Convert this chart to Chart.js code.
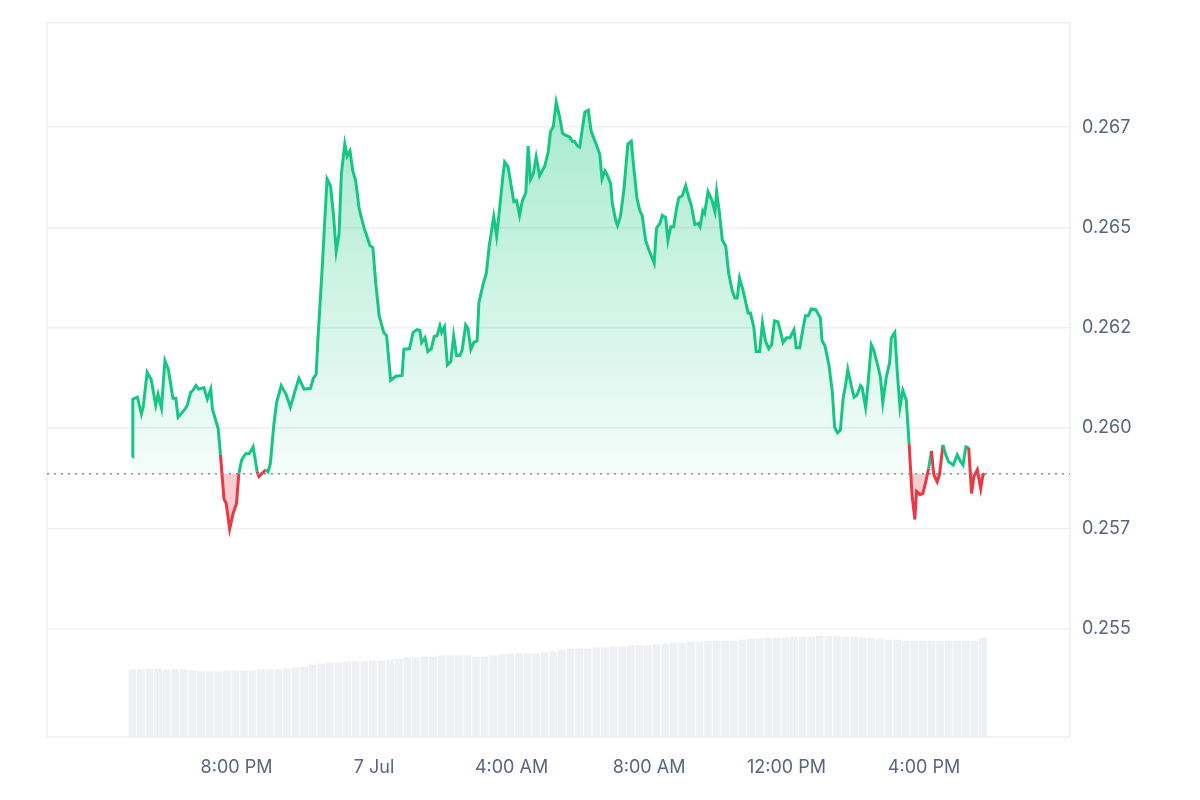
<!DOCTYPE html>
<html><head><meta charset="utf-8">
<script src="https://cdn.jsdelivr.net/npm/chart.js@4"></script>
<style>html,body{margin:0;padding:0;background:#fff}#c{display:block;width:1200px;height:800px}</style>
</head><body><canvas id="c" width="1200" height="800"></canvas>
<script>
// minutes since 16:58 Jul 6
const times=[0,1,9,16,19,26,33,41,45,51,57,63,71,76,80,92,96,102,106,111,116,125,131,137,140,150,154,160,164,170,176,182,186,191,198,204,211,218,221,233,237,241,247,252,260,269,276,285,291,300,311,316,321,324,332,340,346,351,356,361,365,371,375,380,385,390,396,404,415,420,425,431,439,444,451,460,471,474,484,490,497,502,505,511,516,522,527,532,537,540,545,550,556,561,566,572,576,582,586,591,596,602,605,612,618,623,631,636,640,647,650,656,666,671,676,681,687,691,695,700,705,711,720,726,730,735,740,746,751,756,764,768,772,777,781,785,790,796,801,809,816,820,825,829,835,838,844,847,852,858,865,871,876,881,886,890,896,902,911,915,921,925,931,935,940,945,950,954,960,966,972,976,982,988,991,996,999,1005,1012,1017,1020,1025,1030,1036,1041,1047,1052,1056,1060,1066,1071,1075,1079,1085,1089,1095,1100,1105,1111,1116,1121,1127,1132,1136,1142,1148,1155,1159,1165,1171,1175,1180,1185,1193,1201,1204,1209,1216,1222,1226,1231,1236,1241,1245,1249,1255,1260,1265,1271,1274,1280,1284,1290,1294,1302,1306,1310,1316,1322,1325,1331,1335,1340,1345,1351,1356,1361,1366,1369,1375,1380,1385,1390,1395,1399,1405,1409,1415,1420,1425,1433,1440,1446,1450,1455,1460,1465,1469,1475,1481,1485,1488];
const prices=[0.25928,0.26072,0.26077,0.26035,0.26052,0.26139,0.26121,0.26057,0.26084,0.26050,0.26168,0.26146,0.26074,0.26074,0.26027,0.26047,0.26057,0.26089,0.26094,0.26106,0.26097,0.26101,0.26072,0.26097,0.26047,0.25998,0.25933,0.25824,0.25812,0.25748,0.25787,0.25812,0.25886,0.25921,0.25936,0.25936,0.25953,0.25891,0.25879,0.25896,0.25891,0.25911,0.26007,0.26064,0.26106,0.26082,0.26052,0.26097,0.26124,0.26097,0.26099,0.26124,0.26134,0.26220,0.26411,0.26621,0.26604,0.26535,0.26441,0.26485,0.26634,0.26708,0.26678,0.26691,0.26641,0.26616,0.26547,0.26502,0.26455,0.26450,0.26361,0.26280,0.26238,0.26230,0.26119,0.26129,0.26131,0.26196,0.26198,0.26238,0.26245,0.26243,0.26213,0.26225,0.26191,0.26198,0.26228,0.26230,0.26255,0.26238,0.26252,0.26158,0.26166,0.26230,0.26181,0.26181,0.26196,0.26257,0.26248,0.26196,0.26213,0.26218,0.26312,0.26356,0.26386,0.26453,0.26527,0.26478,0.26530,0.26629,0.26663,0.26651,0.26564,0.26567,0.26530,0.26567,0.26587,0.26703,0.26619,0.26634,0.26676,0.26629,0.26653,0.26688,0.26738,0.26752,0.26812,0.26775,0.26735,0.26730,0.26725,0.26715,0.26715,0.26703,0.26700,0.26740,0.26787,0.26792,0.26740,0.26710,0.26683,0.26621,0.26641,0.26631,0.26609,0.26559,0.26517,0.26505,0.26527,0.26592,0.26708,0.26715,0.26641,0.26572,0.26542,0.26530,0.26468,0.26443,0.26411,0.26498,0.26510,0.26530,0.26525,0.26468,0.26502,0.26502,0.26547,0.26574,0.26579,0.26604,0.26572,0.26554,0.26507,0.26510,0.26502,0.26542,0.26535,0.26589,0.26567,0.26540,0.26589,0.26535,0.26468,0.26453,0.26386,0.26344,0.26324,0.26324,0.26374,0.26344,0.26312,0.26287,0.26287,0.26250,0.26191,0.26191,0.26262,0.26218,0.26198,0.26208,0.26267,0.26265,0.26238,0.26213,0.26225,0.26225,0.26245,0.26200,0.26200,0.26250,0.26280,0.26280,0.26297,0.26295,0.26275,0.26218,0.26205,0.26158,0.26089,0.26002,0.25988,0.25995,0.26077,0.26106,0.26146,0.26106,0.26077,0.26082,0.26106,0.26101,0.26052,0.26106,0.26208,0.26196,0.26151,0.26126,0.26064,0.26126,0.26163,0.26225,0.26238,0.26146,0.26052,0.26094,0.26069,0.25960,0.25834,0.25772,0.25842,0.25834,0.25837,0.25866,0.25899,0.25943,0.25884,0.25866,0.25884,0.25958,0.25933,0.25916,0.25908,0.25933,0.25916,0.25908,0.25953,0.25951,0.25837,0.25879,0.25896,0.25849,0.25884,0.25886];
const volumes=[6.8,6.8,6.9,6.9,6.8,6.8,6.8,6.7,6.6,6.6,6.6,6.7,6.7,6.7,6.7,6.8,6.8,6.8,6.9,7.0,7.1,7.3,7.4,7.5,7.5,7.6,7.6,7.6,7.7,7.7,7.8,7.9,8.0,8.0,8.1,8.1,8.2,8.2,8.2,8.2,8.1,8.1,8.2,8.3,8.4,8.4,8.4,8.4,8.5,8.6,8.8,8.9,8.9,8.9,9.0,9.0,9.1,9.1,9.2,9.2,9.2,9.3,9.4,9.5,9.5,9.6,9.6,9.7,9.7,9.7,9.7,9.8,9.9,9.9,10.0,10.0,10.0,10.1,10.1,10.1,10.2,10.2,10.2,10.1,10.1,10.0,10.0,9.9,9.8,9.8,9.7,9.7,9.7,9.7,9.7,9.7,9.7,9.7,9.7,10.0];
const volumeStepMin=15;
const basePrice=0.25886;
const xTickMinutes=[182,422,662,902,1142,1382];
const xTickLabels=['8:00 PM','7 Jul','4:00 AM','8:00 AM','12:00 PM','4:00 PM'];
const yTickValues=[0.255,0.2575,0.26,0.2625,0.265,0.2675];
const yTickLabels=['0.255','0.257','0.260','0.262','0.265','0.267'];

const GREEN='#16c784',RED='#ea3943';
const priceData=times.map((t,i)=>({x:t,y:prices[i]}));
const volData=volumes.map((v,i)=>({x:i*volumeStepMin,y:v}));

const frame={id:'frame',beforeDatasetsDraw(ch){const a=ch.chartArea,c=ch.ctx;c.save();c.strokeStyle='#eeeff2';c.lineWidth=1.5;c.strokeRect(a.left,a.top,a.right-a.left,a.bottom-a.top);c.restore();},
afterDatasetsDraw(ch){const a=ch.chartArea,c=ch.ctx,y=ch.scales.y.getPixelForValue(basePrice);c.save();c.strokeStyle='#858ca2';c.lineWidth=1.5;c.setLineDash([2,5]);c.beginPath();c.moveTo(a.left,y);c.lineTo(a.right,y);c.stroke();c.restore();}};

function greenFill(ctx){const ch=ctx.chart,a=ch.chartArea;if(!a)return 'rgba(22,199,132,0.2)';const yb=ch.scales.y.getPixelForValue(basePrice);const g=ch.ctx.createLinearGradient(0,ch.scales.y.getPixelForValue(0.2681),0,yb);g.addColorStop(0,'rgba(22,199,132,0.38)');g.addColorStop(1,'rgba(22,199,132,0.04)');return g;}

new Chart(document.getElementById('c'),{
 data:{datasets:[
  {type:'line',data:priceData,yAxisID:'y',borderColor:GREEN,borderWidth:3,pointRadius:0,tension:0,order:1,
   segment:{borderColor:c=>(c.p0.parsed.y<basePrice-1e-7||c.p1.parsed.y<basePrice-1e-7)?RED:GREEN},
   fill:{target:{value:basePrice},above:greenFill,below:'rgba(234,57,67,0.25)'}},
  {type:'bar',data:volData,yAxisID:'y2',backgroundColor:'#eff0f3',barPercentage:1,categoryPercentage:0.9,order:2}
 ]},
 options:{responsive:false,animation:false,devicePixelRatio:1,
  layout:{padding:{left:47,top:18,right:0,bottom:0}},
  plugins:{legend:{display:false},tooltip:{enabled:false}},
  scales:{
   x:{type:'linear',min:0,max:1488,grid:{display:false},border:{display:false},
     afterBuildTicks:s=>{s.ticks=xTickMinutes.map(v=>({value:v}));},
     ticks:{autoSkip:false,maxRotation:0,padding:12,color:'#58667e',font:{family:'Inter',size:18},callback:(v)=>xTickLabels[xTickMinutes.indexOf(v)]},
     afterFit:s=>{s.height=63;}},
   y:{position:'right',min:0.2523,max:0.2701,border:{display:false},grid:{color:'#eeeff2',lineWidth:1.5,drawTicks:false},
     afterBuildTicks:s=>{s.ticks=yTickValues.map(v=>({value:v}));},
     ticks:{padding:12,color:'#58667e',font:{family:'Inter',size:18},callback:v=>{const i=yTickValues.findIndex(t=>Math.abs(t-v)<1e-9);return i>=0?yTickLabels[i]:'';}},
     afterFit:s=>{s.width=130;}},
   y2:{display:false,min:0,max:71.9}
  }},
 plugins:[frame]
});
</script></body></html>
